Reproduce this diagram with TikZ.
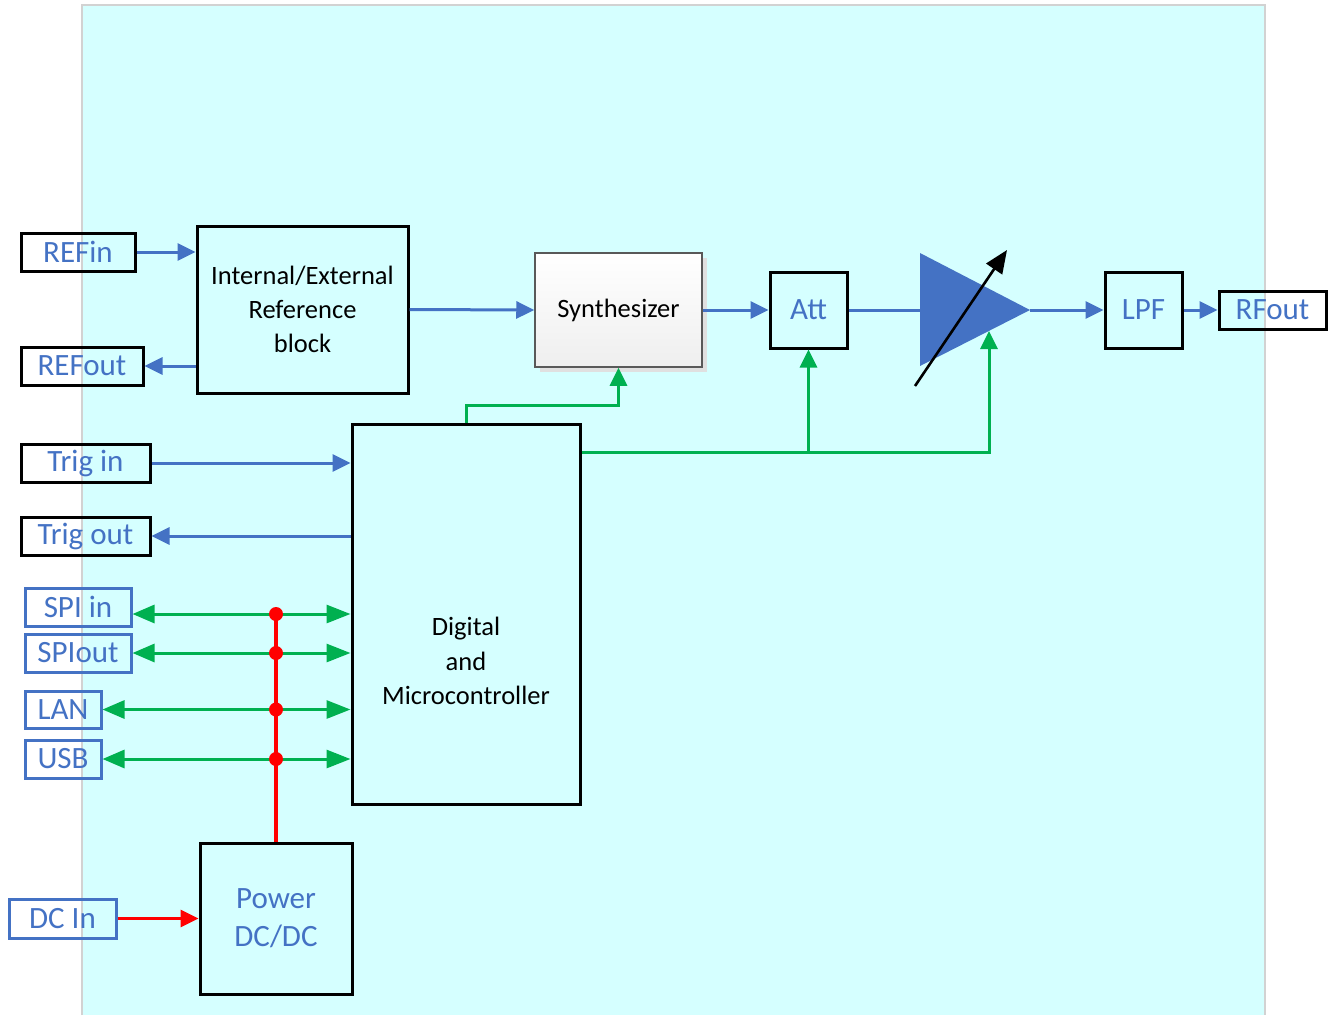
\documentclass[tikz,border=0pt]{standalone}
\usepackage{fontspec}
\setmainfont{Carlito}
\usetikzlibrary{arrows.meta,shadows}
\definecolor{bgc}{HTML}{D5FFFF}
\definecolor{sig}{HTML}{4472C4}
\definecolor{ctl}{HTML}{00B050}
\begin{document}
\begin{tikzpicture}[x=1pt, y=-1pt, >={Triangle[length=18pt,width=17pt]},
  blk/.style={draw, line width=3pt, inner sep=0pt, align=center, font=\fontsize{26.5}{34}\selectfont},
  big/.style={text=sig, font=\fontsize{31}{38}\selectfont},
  port/.style={draw, line width=3pt, inner sep=0pt, big},
  bport/.style={port, draw=sig, line width=3pt},
  rf/.style={->, sig, line width=3pt},
  ctlw/.style={->, ctl, line width=3pt},
  bidir/.style={{Triangle[length=22pt,width=18pt]}-{Triangle[length=24pt,width=18pt]}, ctl, line width=3pt},
  pwr/.style={red, line width=3.2pt}]
\useasboundingbox (0,0) rectangle (1330,1015);
\fill[bgc] (82,5) rectangle (1265,1015);
\draw[gray!35, line width=1.5pt] (82,1015) |- (1265,5) -- (1265,1015);

% ports
\node[port, minimum width=114pt, minimum height=38pt] (refin) at (78,252) {REFin};
\node[port, minimum width=122pt, minimum height=38pt] (refout) at (82,366) {REFout};
\node[port, minimum width=129pt, minimum height=38pt] (trigin) at (85.5,463) {Trig in};
\node[port, minimum width=129pt, minimum height=38pt] (trigout) at (85.5,536) {Trig out};
\node[port, minimum width=107pt, minimum height=38pt] (rfout) at (1272.5,310) {RFout};
\node[bport, minimum width=106pt, minimum height=38pt] (spiin) at (78,607) {SPI in};
\node[bport, minimum width=106pt, minimum height=38pt] (spiout) at (78,653) {SPIout};
\node[bport, minimum width=76pt, minimum height=37pt] (lan) at (63,709.5) {LAN};
\node[bport, minimum width=76pt, minimum height=38pt] (usb) at (63,759) {USB};
\node[bport, minimum width=107pt, minimum height=39pt] (dcin) at (62.5,918.5) {DC In};

% blocks
\node[blk, minimum width=211pt, minimum height=167pt] (ref) at (302.5,309.5) {Internal/External\\Reference\\block};
\node[blk, draw=gray!70!black, line width=1.5pt, top color=white, bottom color=gray!13,
  drop shadow={shadow xshift=5pt, shadow yshift=-5pt, fill=black!12, opacity=1},
  minimum width=167pt, minimum height=114pt] (synth) at (618.5,310) {Synthesizer};
\node[blk, big, minimum width=77pt, minimum height=76pt] (att) at (808.5,310) {Att};
\node[blk, big, minimum width=77pt, minimum height=76pt] (lpf) at (1143.5,310) {LPF};
\node[blk, minimum width=228pt, minimum height=380pt] (dig) at (466,614) {};
\node[align=center, font=\fontsize{26.5}{34.5}\selectfont] (digtxt) at ([yshift=-47pt]dig.center) {Digital\\and\\Microcontroller};
\node[blk, big, minimum width=152pt, minimum height=151pt] (pwr) at (276,918.5) {Power\\DC/DC};

% amplifier
\coordinate (ampin) at (920,310);
\coordinate (ampout) at (1030,310);
\coordinate (amptap) at (989,331);
\fill[sig] (920,253) -- (ampout) -- (920,366) -- cycle;
\coordinate (tunelo) at (915,386);
\coordinate (tunehi) at (1007,250);
\draw[-{Triangle[length=23pt,width=19pt]}, line width=2.6pt] (tunelo) -- (tunehi);

% rf path
\draw[rf] (refin.east) -- (refin.east -| ref.west);
\draw[rf] (refout.east -| ref.west) -- (refout.east);
\draw[rf] (ref.east) -- (synth.west);
\draw[rf] (synth.east) -- (att.west);
\draw[rf, -] (att.east) -- (ampin);
\draw[rf] (ampout) -- (lpf.west);
\draw[rf] (lpf.east) -- (rfout.west);
\draw[rf] (trigin.east) -- (trigin.east -| dig.west);
\draw[rf] (trigout.east -| dig.west) -- (trigout.east);

% control
\coordinate (bus) at ([yshift=-30pt]dig.north east);
\draw[ctlw] (dig.north) -- ++(0,-17) -| (synth.south);
\draw[ctlw] (bus) -| (amptap);
\draw[ctlw] (bus -| att.south) -- (att.south);
\coordinate (spiy) at ([yshift=-7pt]spiin.east);
\draw[bidir] (spiy) -- (spiy -| dig.west);
\draw[bidir] (spiout.east) -- (spiout.east -| dig.west);
\draw[bidir] (lan.east) -- (lan.east -| dig.west);
\draw[bidir] (usb.east) -- (usb.east -| dig.west);

% power
\draw[pwr] (pwr.north) -- (pwr.north |- spiy);
\foreach \p in {spiy, spiout.east, lan.east, usb.east}
  \fill[red] (pwr.north |- \p) circle (7pt);
\draw[pwr, ->] (dcin.east) -- (pwr.west);
\end{tikzpicture}
\end{document}
